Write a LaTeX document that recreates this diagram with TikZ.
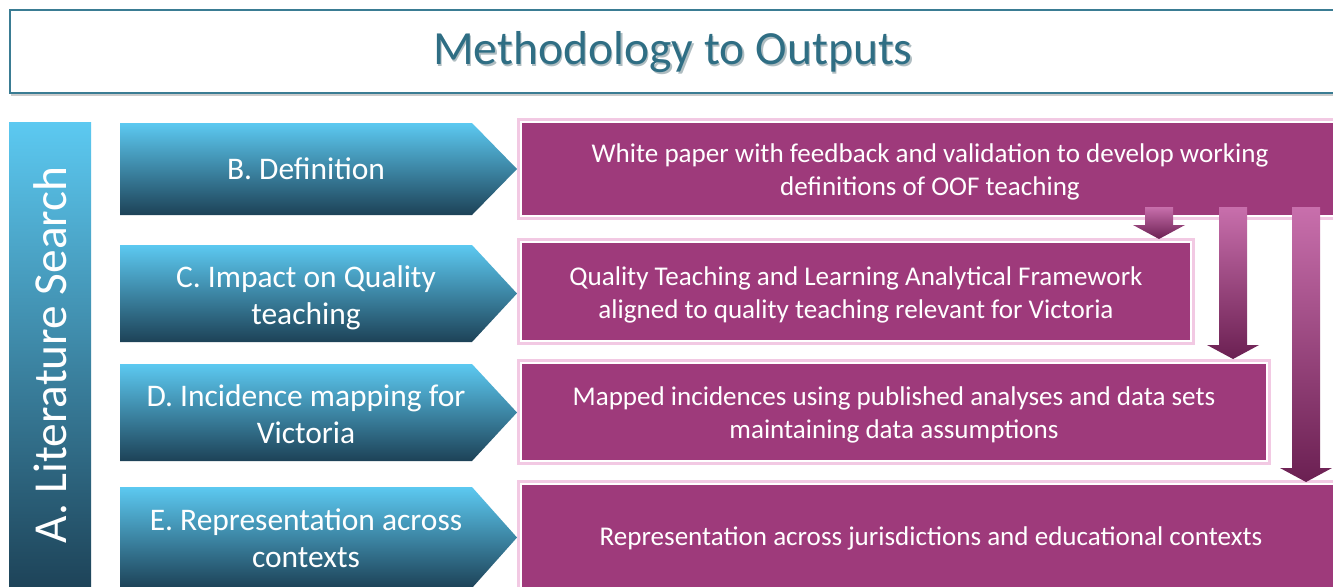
\documentclass[tikz,border=0pt]{standalone}
\usepackage{fontspec}
\setmainfont{Carlito}
\usetikzlibrary{fit,calc}

\definecolor{titleteal}{HTML}{2F6E84}
\definecolor{frameteal}{HTML}{3A7C93}
\definecolor{chevtop}{HTML}{5CC9F1}
\definecolor{chevbot}{HTML}{1D4257}
\definecolor{plum}{HTML}{9E3A7B}
\definecolor{glow}{HTML}{F2C9E3}
\definecolor{arrtop}{HTML}{C86FAC}
\definecolor{arrbot}{HTML}{6B2052}

\tikzset{
  titletext/.style={font=\fontsize{35.7}{40}\selectfont},
  sidetext/.style={text=white, font=\fontsize{35.5}{40}\selectfont},
  chevtext/.style={text=white, align=center, font=\fontsize{23.6}{27.75}\selectfont},
  outtext/.style={text=white, align=center, font=\fontsize{20.3}{24.75}\selectfont},
  outbox/.style={fill=plum, draw=white, line width=2pt, inner sep=0pt,
    preaction={draw=glow, line width=6pt}},
  blueshade/.style={top color=chevtop, bottom color=chevbot},
  plumshade/.style={top color=arrtop, bottom color=arrbot},
}

% chevron: #1 top y, #2 bottom y (pixel units)
\newcommand\chevronshape[2]{%
  \shade[blueshade] (120,#1) -- (472,#1) -- (517,{(#1+#2)/2}) -- (472,#2) -- (120,#2) -- cycle;}
% block arrow: #1 centre x, #2 top y, #3 tip y
\newcommand\blockarrowshape[3]{%
  \shade[plumshade] ({#1-14},#2) -- ({#1+14},#2) -- ({#1+14},{#3-14}) -- ({#1+26},{#3-14})
    -- (#1,#3) -- ({#1-26},{#3-14}) -- ({#1-14},{#3-14}) -- cycle;}

\begin{document}
\begin{tikzpicture}[x=0.75pt,y=-0.75pt]
  \clip (0,0) rectangle (1333,586);
  \fill[white] (0,0) rectangle (1333,586);

  % heading frame
  \draw[black!20, line width=1.2pt] (11,95) -- (1345,95);
  \node[draw=frameteal, line width=1.1pt, inner sep=0pt, fit={(10,10) (1345,93)}] (frame) {};
  \node[titletext, text=titleteal!60!black, opacity=0.35] at (674.5,54.5) {Methodology to Outputs};
  \node[titletext, text=titleteal] (title) at (673,52) {Methodology to Outputs};

  % side bar
  \shade[blueshade] (9,122) rectangle (91,592);
  \node[sidetext, rotate=90] (lit) at (50,355) {A. Literature Search};

  % method chevrons
  \chevronshape{123}{215}
  \node[chevtext] (mB) at (306,169) {B. Definition};
  \chevronshape{245}{342}
  \node[chevtext] (mC) at (306,298) {C. Impact on Quality\\teaching};
  \chevronshape{364}{461}
  \node[chevtext] (mD) at (306,414) {D. Incidence mapping for\\Victoria};
  \chevronshape{487}{588}
  \node[chevtext] (mE) at (306,538) {E. Representation across\\contexts};

  % output boxes
  \node[outbox, fit={(521,122) (1345,216)}] (oB) {};
  \node[outbox, fit={(521,242) (1191,341)}] (oC) {};
  \node[outbox, fit={(521,363) (1267,461)}] (oD) {};
  \node[outbox, fit={(521,484) (1345,588)}] (oE) {};

  % output texts
  \node[outtext] (tB) at ($(oB.center)+(-3,3)$)
    {White paper with feedback and validation to develop working\\definitions of OOF teaching};
  \node[outtext] (tC) at ($(oC.center)+(0,3)$)
    {Quality Teaching and Learning Analytical Framework\\aligned to quality teaching relevant for Victoria};
  \node[outtext] (tD) at ($(oD.center)+(0,3)$)
    {Mapped incidences using published analyses and data sets\\maintaining data assumptions};
  \node[outtext] (tE) at ($(oE.center)+(-2,2)$)
    {Representation across jurisdictions and educational contexts};

  % flow from the white paper down to the later outputs
  \blockarrowshape{1159}{207}{239}
  \blockarrowshape{1233}{207}{359}
  \blockarrowshape{1306}{207}{482}
\end{tikzpicture}
\end{document}
